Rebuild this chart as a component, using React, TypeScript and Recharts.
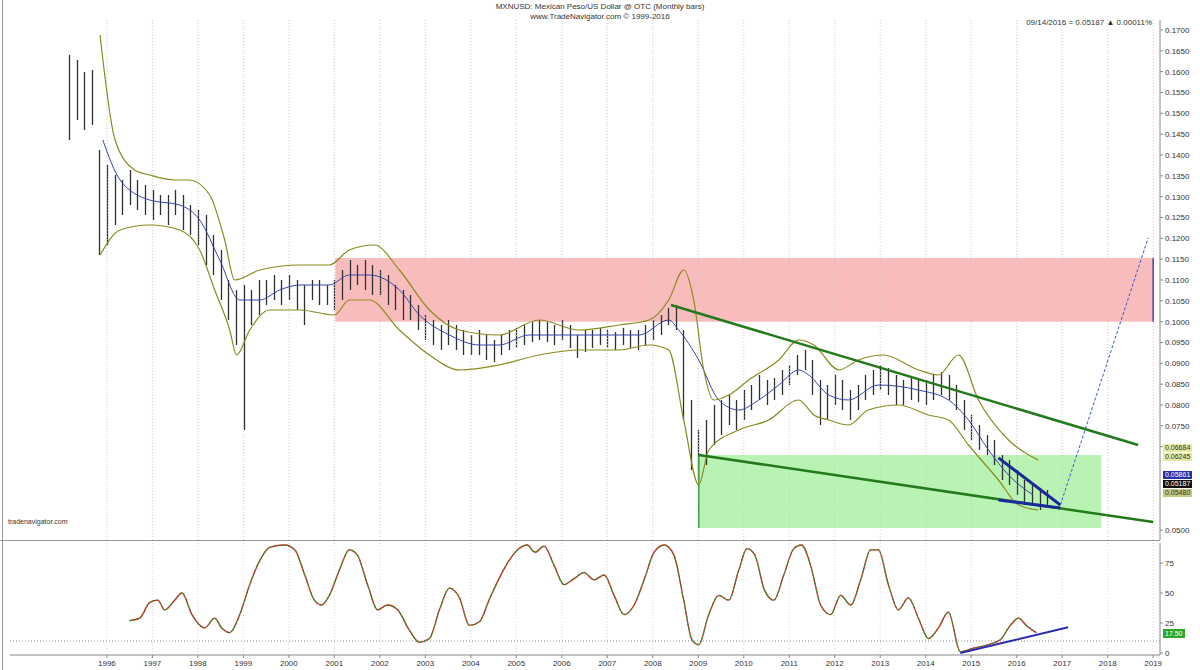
import {
  Bar,
  ComposedChart,
  Line,
  ReferenceArea,
  ReferenceLine,
  XAxis,
  YAxis,
} from "recharts";

const FONT = '"Liberation Sans", Arial, sans-serif';

// OHLC bars, one every two months from early 1995
const firstBar = 1995.17;
const barHigh = [
  0.164, 0.1628, 0.1599, 0.1604, 0.1412, 0.1376, 0.1352, 0.134, 0.1364, 0.134,
  0.1328, 0.1316, 0.1304, 0.1304, 0.1316, 0.1304, 0.128, 0.1268, 0.1256, 0.1208,
  0.1172, 0.11, 0.1076, 0.1088, 0.1076, 0.11, 0.11, 0.1112, 0.11, 0.1112,
  0.11, 0.1088, 0.11, 0.11, 0.1088, 0.11, 0.1124, 0.1148, 0.1136, 0.1148,
  0.1136, 0.1124, 0.1112, 0.1088, 0.1076, 0.1064, 0.104, 0.1016, 0.1004, 0.0992,
  0.1004, 0.0992, 0.098, 0.0968, 0.098, 0.0968, 0.0956, 0.0968, 0.098, 0.0985,
  0.0992, 0.0999, 0.1004, 0.0999, 0.0992, 0.1004, 0.0992, 0.0968, 0.098, 0.098,
  0.0985, 0.098, 0.0975, 0.0985, 0.098, 0.098, 0.0992, 0.1004, 0.1016, 0.1033,
  0.104, 0.098, 0.0812, 0.074, 0.0764, 0.08, 0.0812, 0.0824, 0.0812, 0.0836,
  0.0848, 0.0872, 0.086, 0.0865, 0.0884, 0.0896, 0.092, 0.0932, 0.0908, 0.086,
  0.0848, 0.0872, 0.086, 0.0836, 0.0848, 0.0872, 0.0884, 0.0896, 0.0889, 0.0872,
  0.086, 0.0865, 0.0865, 0.086, 0.0872, 0.0879, 0.0872, 0.0848, 0.0812, 0.0776,
  0.0752, 0.0728, 0.0716, 0.068, 0.0668, 0.0644, 0.062, 0.0608, 0.0601, 0.0596,
];
const barLow = [
  0.1436, 0.1484, 0.146, 0.1472, 0.116, 0.1184, 0.1232, 0.1256, 0.128, 0.1268,
  0.1256, 0.1244, 0.1256, 0.1232, 0.1256, 0.122, 0.1208, 0.1184, 0.1136, 0.1112,
  0.1052, 0.1004, 0.0944, 0.074, 0.0992, 0.1016, 0.104, 0.1052, 0.104, 0.1052,
  0.1028, 0.0992, 0.1052, 0.104, 0.104, 0.1028, 0.1052, 0.1076, 0.1088, 0.1076,
  0.1064, 0.1064, 0.104, 0.1028, 0.1004, 0.1004, 0.098, 0.0956, 0.0944, 0.0932,
  0.0944, 0.0932, 0.092, 0.092, 0.092, 0.0908, 0.0903, 0.092, 0.0932, 0.0937,
  0.0944, 0.0951, 0.0956, 0.0951, 0.0944, 0.0956, 0.0937, 0.0913, 0.0927, 0.0937,
  0.0944, 0.0937, 0.0932, 0.0944, 0.0937, 0.0932, 0.0944, 0.0956, 0.0968, 0.0992,
  0.098, 0.0764, 0.0644, 0.062, 0.0656, 0.0704, 0.0728, 0.0752, 0.074, 0.0764,
  0.0788, 0.0812, 0.08, 0.0812, 0.0824, 0.0848, 0.0872, 0.0884, 0.0824, 0.0752,
  0.0764, 0.08, 0.0788, 0.0764, 0.0788, 0.0812, 0.0824, 0.0836, 0.0824, 0.08,
  0.08, 0.0812, 0.0807, 0.08, 0.0812, 0.0824, 0.0812, 0.0788, 0.074, 0.0716,
  0.0692, 0.068, 0.0656, 0.062, 0.0608, 0.0584, 0.056, 0.056, 0.0548, 0.056,
];

// moving average (blue)
const maPts = [
  [1995.91, 0.1436], [1996.29, 0.134], [1996.94, 0.1292], [1997.6, 0.128],
  [1998.04, 0.1244], [1998.48, 0.1148], [1998.92, 0.1052], [1999.36, 0.1052],
  [1999.8, 0.1076], [2000.24, 0.1088], [2000.89, 0.1088], [2001.33, 0.1112],
  [2001.77, 0.1112], [2002.43, 0.1076], [2002.87, 0.1016], [2003.53, 0.0968],
  [2004.19, 0.0944], [2004.62, 0.0944], [2005.28, 0.0968], [2005.94, 0.0968],
  [2006.82, 0.0968], [2007.7, 0.0968], [2008.35, 0.1004], [2008.57, 0.098],
  [2009.01, 0.0908], [2009.45, 0.0812], [2009.89, 0.0788], [2010.33, 0.0812],
  [2010.77, 0.0848], [2011.21, 0.0884], [2011.43, 0.0872], [2011.87, 0.0824],
  [2012.3, 0.0812], [2012.96, 0.0848], [2013.84, 0.0836], [2014.5, 0.0812],
  [2014.94, 0.0764], [2015.38, 0.0692], [2015.82, 0.0632], [2016.36, 0.0584],
];

// bands (olive)
const upperPts = [
  [1995.85, 0.1688], [1996.18, 0.1436], [1996.61, 0.1364], [1996.94, 0.1352],
  [1997.49, 0.134], [1997.82, 0.134], [1998.26, 0.1304], [1998.59, 0.1196],
  [1998.81, 0.11], [1999.36, 0.1124], [2000.24, 0.1136], [2000.89, 0.1136],
  [2001.33, 0.1172], [2001.88, 0.1184], [2002.43, 0.1124], [2003.09, 0.1028],
  [2003.75, 0.098], [2004.62, 0.0968], [2005.5, 0.1004], [2006.38, 0.098],
  [2007.26, 0.0992], [2007.92, 0.1004], [2008.35, 0.1052], [2008.68, 0.1124],
  [2008.9, 0.1052], [2009.12, 0.0884], [2009.34, 0.0812], [2009.67, 0.0824],
  [2010.11, 0.086], [2010.77, 0.0908], [2011.21, 0.0956], [2011.54, 0.0944],
  [2012.09, 0.0884], [2012.52, 0.0908], [2013.07, 0.092], [2013.84, 0.0884],
  [2014.28, 0.0872], [2014.72, 0.092], [2015.16, 0.0812], [2015.82, 0.0716],
  [2016.47, 0.0668],
];
const lowerPts = [
  [1995.85, 0.116], [1996.29, 0.122], [1996.94, 0.1232], [1997.6, 0.122],
  [1998.04, 0.1172], [1998.37, 0.1076], [1998.7, 0.098], [1998.85, 0.092],
  [1999.14, 0.098], [1999.58, 0.1028], [2000.24, 0.1028], [2001.0, 0.1016],
  [2001.33, 0.1052], [2001.77, 0.1052], [2002.43, 0.098], [2003.09, 0.092],
  [2003.75, 0.0884], [2004.62, 0.0896], [2005.5, 0.092], [2006.38, 0.0932],
  [2007.26, 0.0932], [2007.92, 0.0944], [2008.35, 0.0932], [2008.68, 0.0764],
  [2009.01, 0.0608], [2009.23, 0.0692], [2009.89, 0.074], [2010.55, 0.0764],
  [2011.21, 0.0812], [2011.54, 0.0776], [2011.87, 0.0764], [2012.3, 0.0752],
  [2012.74, 0.0788], [2013.4, 0.08], [2014.06, 0.0776], [2014.5, 0.0764],
  [2014.94, 0.0704], [2015.6, 0.062], [2016.04, 0.056], [2016.47, 0.0548],
];

// stochastic oscillator (lower pane)
const stochPts = [
  [1996.5, 27], [1996.72, 29], [1996.94, 42], [1997.12, 44], [1997.27, 36],
  [1997.49, 44], [1997.65, 50], [1997.87, 32], [1998.15, 21], [1998.37, 29],
  [1998.52, 21], [1998.7, 17], [1998.92, 32], [1999.14, 57], [1999.36, 77],
  [1999.58, 88], [1999.91, 90], [2000.13, 86], [2000.35, 65], [2000.56, 44],
  [2000.72, 40], [2000.89, 48], [2001.11, 69], [2001.33, 86], [2001.5, 82],
  [2001.73, 57], [2001.95, 36], [2002.17, 40], [2002.39, 36], [2002.65, 19],
  [2002.87, 9], [2003.09, 12], [2003.31, 36], [2003.53, 54], [2003.75, 46],
  [2003.97, 23], [2004.19, 26], [2004.4, 44], [2004.62, 62], [2004.84, 77],
  [2005.06, 87], [2005.24, 90], [2005.41, 84], [2005.61, 89], [2005.83, 73],
  [2006.05, 57], [2006.27, 62], [2006.49, 67], [2006.71, 61], [2006.93, 65],
  [2007.15, 48], [2007.37, 32], [2007.59, 40], [2007.81, 61], [2008.03, 84],
  [2008.25, 90], [2008.46, 82], [2008.68, 44], [2008.86, 11], [2009.01, 7],
  [2009.23, 32], [2009.45, 48], [2009.67, 44], [2009.89, 69], [2010.07, 87],
  [2010.24, 82], [2010.46, 52], [2010.66, 44], [2010.88, 65], [2011.1, 87],
  [2011.27, 90], [2011.47, 73], [2011.69, 40], [2011.91, 32], [2012.13, 48],
  [2012.35, 40], [2012.57, 61], [2012.79, 86], [2012.96, 86], [2013.18, 57],
  [2013.4, 36], [2013.62, 46], [2013.84, 29], [2014.06, 12], [2014.28, 21],
  [2014.5, 34], [2014.76, 1], [2015.05, 4], [2015.38, 7], [2015.64, 11],
  [2015.86, 23], [2016.04, 29], [2016.21, 23], [2016.43, 17],
];

// 0.055-0.065 labels sit under the price flags
const priceTicks = [
  0.05, 0.07, 0.075, 0.08, 0.085, 0.09, 0.095, 0.1, 0.105, 0.11, 0.115, 0.12,
  0.125, 0.13, 0.135, 0.14, 0.145, 0.15, 0.155, 0.16, 0.165, 0.17,
];
const yearTicks = [
  1996, 1997, 1998, 1999, 2000, 2001, 2002, 2003, 2004, 2005, 2006, 2007, 2008,
  2009, 2010, 2011, 2012, 2013, 2014, 2015, 2016, 2017, 2018, 2019,
];
const stochTicks = [0, 25, 50, 75];

// price flags on the right axis
const flags = [
  { text: "0.06684", bg: "#e8e8a0", top: 444 },
  { text: "0.06245", bg: "#e8e8a0", top: 453 },
  { text: "0.05861", bg: "#2233aa", top: 471, color: "#fff" },
  { text: "0.05187", bg: "#111", top: 480, color: "#fff" },
  { text: "0.05480", bg: "#c8c880", top: 489 },
];

const X_DOMAIN: [number, number] = [1993.87, 2019.15];

const bars = barHigh.map((h, i) => ({ t: firstBar + i / 6, range: [barLow[i], h] }));
const toRows = (pts: number[][]) => pts.map(([t, v]) => ({ t, v }));

const tickStyle = { fontSize: 8, fill: "#333", fontFamily: FONT };

function HiLo(p: any) {
  const top = Math.min(p.y, p.y + p.height);
  const bottom = Math.max(p.y, p.y + p.height);
  const cx = Math.round(p.x + p.width / 2) + 0.5;
  return <line x1={cx} x2={cx} y1={top} y2={bottom} stroke="#303030" strokeWidth={1.3} />;
}

export default function App() {
  return (
    <div
      style={{
        position: "absolute",
        left: 0,
        top: 0,
        width: 1200,
        height: 670,
        background: "#fff",
        fontFamily: FONT,
        overflow: "hidden",
      }}
    >
      <div style={{ position: "absolute", top: 2, width: 1200, textAlign: "center", fontSize: 8, color: "#333", lineHeight: "10px" }}>
        MXNUSD: Mexican Peso/US Dollar @ OTC (Monthly bars)
        <br />
        www.TradeNavigator.com © 1999-2016
      </div>
      <div style={{ position: "absolute", top: 18, right: 48, fontSize: 8, color: "#333" }}>
        09/14/2016 = 0.05187 ▲ 0.00011%
      </div>

      <div style={{ position: "absolute", left: 0, top: 0 }}>
        <ComposedChart width={1200} height={540} data={bars} margin={{ top: 20, right: 0, bottom: 0, left: 10 }}>
          <XAxis type="number" dataKey="t" domain={X_DOMAIN} allowDataOverflow hide />
          <YAxis
            orientation="right"
            width={40}
            domain={[0.0476, 0.1724]}
            allowDataOverflow
            ticks={priceTicks}
            interval={0}
            tickFormatter={(v: number) => v.toFixed(4)}
            tick={tickStyle}
            tickSize={3}
            tickLine={{ stroke: "#888" }}
            axisLine={{ stroke: "#888" }}
          />
          {yearTicks.map((y) => (
            <ReferenceLine key={y} x={y} stroke="#c8c8c8" strokeDasharray="1 2" />
          ))}
          <ReferenceArea x1={2001.02} x2={2019} y1={0.1} y2={0.1153} fill="#f7a5a5" fillOpacity={0.75} stroke="none" />
          <ReferenceArea x1={2009.01} x2={2017.86} y1={0.0505} y2={0.068} fill="#a8f0a0" fillOpacity={0.8} stroke="none" />
          <ReferenceLine segment={[{ x: 2009.01, y: 0.068 }, { x: 2009.01, y: 0.0505 }]} stroke="#4a9a4a" strokeWidth={1.5} />
          <ReferenceLine segment={[{ x: 2019, y: 0.1153 }, { x: 2019, y: 0.1 }]} stroke="#5040c0" strokeWidth={1.5} />
          <Bar dataKey="range" barSize={2} fill="#303030" shape={HiLo} isAnimationActive={false} />
          <Line data={toRows(maPts)} dataKey="v" type="monotone" stroke="#3344aa" strokeWidth={1} dot={false} isAnimationActive={false} />
          <Line data={toRows(upperPts)} dataKey="v" type="monotone" stroke="#8a8a1c" strokeWidth={1.2} dot={false} isAnimationActive={false} />
          <Line data={toRows(lowerPts)} dataKey="v" type="monotone" stroke="#8a8a1c" strokeWidth={1.2} dot={false} isAnimationActive={false} />
          <ReferenceLine segment={[{ x: 2008.4, y: 0.104 }, { x: 2018.67, y: 0.0704 }]} stroke="#237a1a" strokeWidth={2.5} />
          <ReferenceLine segment={[{ x: 2009.01, y: 0.068 }, { x: 2019, y: 0.0519 }]} stroke="#237a1a" strokeWidth={2.5} />
          <ReferenceLine segment={[{ x: 2015.6, y: 0.0673 }, { x: 2016.96, y: 0.056 }]} stroke="#1a2a9a" strokeWidth={3} />
          <ReferenceLine segment={[{ x: 2015.6, y: 0.0572 }, { x: 2016.96, y: 0.0553 }]} stroke="#1a2a9a" strokeWidth={3} />
          <ReferenceLine segment={[{ x: 2016.96, y: 0.056 }, { x: 2018.89, y: 0.1201 }]} stroke="#3355cc" strokeWidth={1} strokeDasharray="3 2" />
        </ComposedChart>
      </div>

      <div style={{ position: "absolute", left: 8, top: 518, fontSize: 7, color: "#333" }}>tradenavigator.com</div>
      {flags.map((f) => (
        <div
          key={f.text}
          style={{
            position: "absolute",
            left: 1163,
            top: f.top,
            fontSize: 7,
            lineHeight: "8px",
            padding: "0 2px",
            background: f.bg,
            color: f.color ?? "#333",
          }}
        >
          {f.text}
        </div>
      ))}

      <div style={{ position: "absolute", left: 0, top: 540, width: 1160, height: 1, background: "#999" }} />
      <div style={{ position: "absolute", left: 2, top: 0, width: 1, height: 670, background: "#999" }} />

      <div style={{ position: "absolute", left: 0, top: 540 }}>
        <ComposedChart width={1200} height={130} margin={{ top: 3, right: 0, bottom: 0, left: 10 }}>
          <XAxis
            type="number"
            dataKey="t"
            domain={X_DOMAIN}
            allowDataOverflow
            ticks={yearTicks}
            interval={0}
            height={15}
            tick={tickStyle}
            tickSize={3}
            tickLine={{ stroke: "#888" }}
            axisLine={{ stroke: "#888" }}
          />
          <YAxis
            orientation="right"
            width={40}
            domain={[-1.67, 91.67]}
            allowDataOverflow
            ticks={stochTicks}
            interval={0}
            tick={tickStyle}
            tickSize={3}
            tickLine={{ stroke: "#888" }}
            axisLine={{ stroke: "#888" }}
          />
          {yearTicks.map((y) => (
            <ReferenceLine key={y} x={y} stroke="#d8d8d8" strokeDasharray="1 2" />
          ))}
          <ReferenceLine y={10} stroke="#888" strokeDasharray="1 2" />
          <Line data={toRows(stochPts)} dataKey="v" type="monotone" stroke="#d02020" strokeWidth={1.3} dot={false} isAnimationActive={false} />
          <Line data={toRows(stochPts)} dataKey="v" type="monotone" stroke="#2a9a2a" strokeWidth={1.3} strokeDasharray="2 2" dot={false} isAnimationActive={false} />
          <ReferenceLine segment={[{ x: 2014.76, y: 0 }, { x: 2017.13, y: 21.5 }]} stroke="#2a2ab0" strokeWidth={2} />
        </ComposedChart>
      </div>
      <div style={{ position: "absolute", left: 1163, top: 629, fontSize: 7, lineHeight: "9px", padding: "0 2px", background: "#2aa82a", color: "#fff" }}>
        17.50
      </div>
    </div>
  );
}
